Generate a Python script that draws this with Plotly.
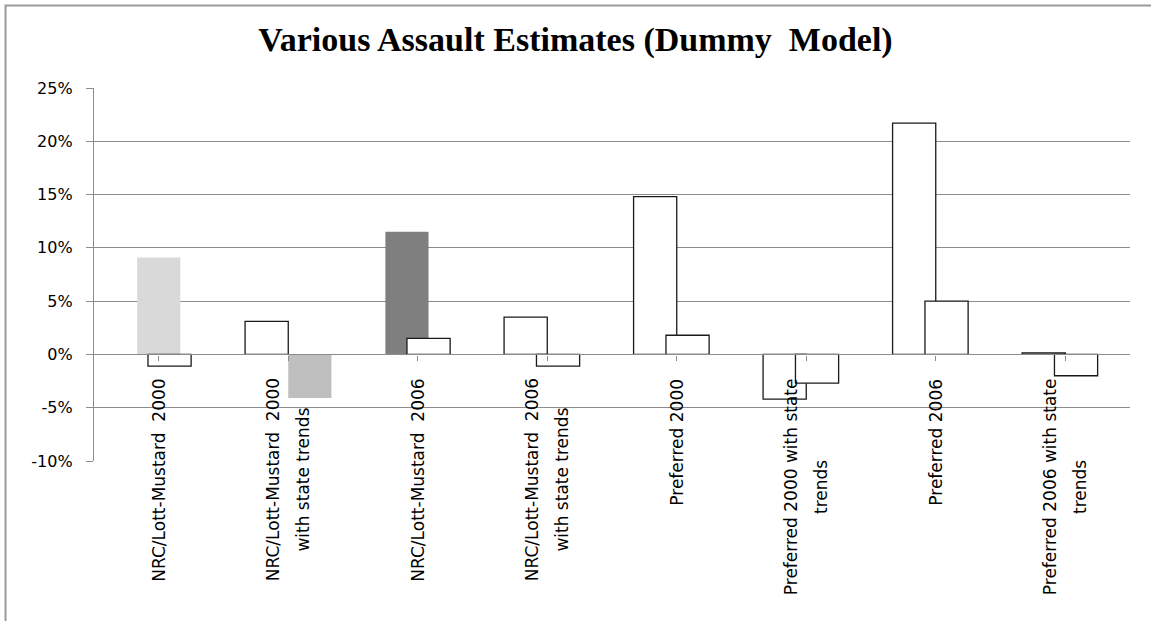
import plotly.graph_objects as go

# Category labels, one entry per line of text
label_lines = [
    ["NRC/Lott-Mustard  2000"],
    ["NRC/Lott-Mustard  2000", "with state trends"],
    ["NRC/Lott-Mustard  2006"],
    ["NRC/Lott-Mustard  2006", "with state trends"],
    ["Preferred 2000"],
    ["Preferred 2000 with state", "trends"],
    ["Preferred 2006"],
    ["Preferred 2006 with state", "trends"],
]

# Estimated effects (%)
series_a = [9.1, 3.1, 11.5, 3.5, 14.8, -4.2, 21.7, 0.15]
series_b = [-1.1, -4.1, 1.5, -1.1, 1.8, -2.7, 5.0, -2.0]

y_ticks = [-10, -5, 0, 5, 10, 15, 20, 25]
y_tick_text = [f"{v}%" for v in y_ticks]

# ---- styling ----
cats = list(range(len(label_lines)))
bar_w = 1 / 3
WHITE = "#ffffff"
EDGE = "#1a1a1a"

a_fill = ["#d9d9d9", WHITE, "#7f7f7f", WHITE, WHITE, WHITE, WHITE, WHITE]
b_fill = [WHITE, "#bfbfbf", WHITE, WHITE, WHITE, WHITE, WHITE, WHITE]
a_offset = [-1 / 6, -1 / 3, -1 / 4, -1 / 3, -1 / 3, -1 / 3, -1 / 3, -1 / 3]
b_offset = [-1 / 12, 0, -1 / 12, -1 / 12, -1 / 12, -1 / 12, -1 / 12, -1 / 12]


def edges(fills):
    return [0 if f != WHITE else 1.3 for f in fills]


fig = go.Figure()
fig.add_trace(go.Bar(
    x=cats, y=series_a, width=bar_w, offset=a_offset,
    marker=dict(color=a_fill, line=dict(color=EDGE, width=edges(a_fill))),
    showlegend=False, hoverinfo="y",
))
fig.add_trace(go.Bar(
    x=cats, y=series_b, width=bar_w, offset=b_offset,
    marker=dict(color=b_fill, line=dict(color=EDGE, width=edges(b_fill))),
    showlegend=False, hoverinfo="y",
))

GRID = "#8c8c8c"
y_min, y_max = y_ticks[0], y_ticks[-1]

fig.update_layout(
    width=1151, height=621,
    margin=dict(l=94, r=21, t=88, b=160),
    paper_bgcolor="white", plot_bgcolor="white",
    barmode="overlay",
    title=dict(
        text="<b>Various Assault Estimates (Dummy  Model)</b>",
        x=0.5, xanchor="center", y=1 - 27 / 621, yanchor="top",
        font=dict(family="Liberation Serif", size=34, color="black"),
    ),
    xaxis=dict(
        range=[-0.5, len(cats) - 0.5],
        anchor="free", position=(0 - y_min) / (y_max - y_min),
        showline=True, linecolor=GRID, linewidth=1.3,
        ticks="outside", tickson="boundaries", ticklen=5,
        tickcolor=GRID, tickwidth=1.3,
        tickvals=cats, showticklabels=False, showgrid=False, zeroline=False,
    ),
    yaxis=dict(
        range=[y_min, y_max], tickmode="array",
        tickvals=y_ticks, ticktext=y_tick_text,
        showline=True, linecolor=GRID, linewidth=1.3,
        ticks="outside", ticklen=7, tickcolor=GRID, tickwidth=1.3,
        ticklabelstandoff=10,
        showgrid=True, gridcolor=GRID, gridwidth=1.3, zeroline=False,
        tickfont=dict(family="DejaVu Sans", size=16, color="black"),
    ),
)

# Rotated category labels below the zero axis, lines centred on each other
for i, lines in enumerate(label_lines):
    txt = "<br>".join(f'<span style="font-size:17px">{s}</span>' for s in lines)
    fig.add_annotation(
        x=i, y=0, xref="x", yref="y", text=txt, textangle=-90,
        showarrow=False, xanchor="center", yanchor="top", yshift=-22,
        align="center",
        font=dict(family="DejaVu Sans", size=23, color="black"),
    )

# Chart frame (left and top edges)
fig.add_shape(type="rect", xref="paper", yref="paper", layer="above",
              x0=-0.0854, x1=1.1, y0=-0.6, y1=1.2212,
              line=dict(color="#9a9a9a", width=2), fillcolor="rgba(0,0,0,0)")

fig.write_html("out.html")
